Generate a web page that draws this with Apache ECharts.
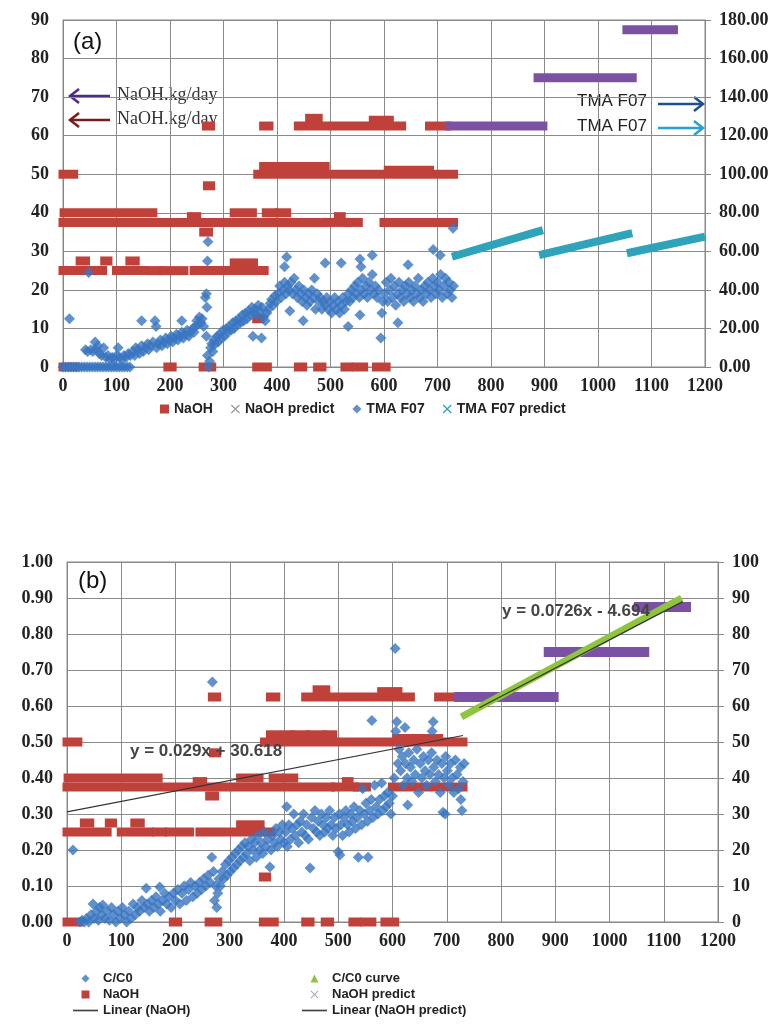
<!DOCTYPE html>
<html>
<head>
<meta charset="utf-8">
<script src="https://cdn.jsdelivr.net/npm/echarts@6/dist/echarts.min.js"></script>
<style>html,body{margin:0;padding:0;background:#fff}#main{width:781px;height:1027px}</style>
</head>
<body>
<div id="main"></div>
<script>
// day axis + the two value scales
var dayAxis = [0, 1200, 100];
var naohAxis = [0, 90, 10];     // (a) left, kg/day
var tmaAxis = [0, 180, 20];     // (a) right
var ccAxis = [0, 1, 0.1];       // (b) left
var naohAxisB = [0, 100, 10];   // (b) right

var naohRuns = [
  [0,20,50],
  [2,168,40],[240,250,39],[320,354,40],[380,392,40],[405,418,40],[515,520,39],
  [0,486,37.5],[495,530,37.5],[535,552,37.5],[600,730,37.5],
  [263,272,35],
  [0,74,25],[100,152,25],[165,176,25],[188,226,25],[245,376,25],
  [32,42,27.5],[78,84,27.5],[125,135,27.5],[320,356,27],
  [270,276,47],
  [268,276,62.5],[375,385,62.5],[440,633,62.5],[685,717,62.5],
  [461,477,64.5],[580,610,64],
  [364,730,50],[375,385,52],[400,412,52],[420,440,52],[450,470,52],[480,490,52],[608,685,51],
  [362,368,12.5],
  [0,22,0],[196,204,0],[262,278,0],[362,382,0],[440,448,0],[476,484,0],[527,534,0],[548,562,0],[586,604,0]
];
var naohPredictRuns = [[723,897,62.5],[888,1064,75],[1054,1141,87.5]];
// TMA F07 predict pieces: [day0, value0, day1, value1]
var tmaPredictSegs = [[727,57.2,897,71],[890,58,1064,69.5],[1054,59,1200,67.6]];

// TMA F07 measured (right axis of a)
var tmaF07 = [
  [0,0],[5,0],[10,0],[15,0],[20,0],[25,0],[30,0],[35,0],[40,0],[45,0],[50,0],[55,0],[60,0],[65,0],
  [70,0],[75,0],[80,0],[85,0],[90,0],[95,0],[100,0],[105,0],[110,0],[115,0],[120,0],[125,0],
  [12,25],[42,9],[46,8],[48,49],[52,9],[56,8],[60,13],[62,9],[65,11],[68,7],[72,6],[76,10],[80,5],
  [84,6],[88,4],[92,5],[96,4],[100,6],[103,10],[106,5],[110,4],[114,6],[118,5],[122,7],[126,6],[130,8],
  [134,6],[136,10],[140,9],[143,7],[147,24],[147,11],[150,8],[154,10],[158,12],[160,9],[164,11],
  [168,13],[172,24],[174,21],[175,10],[178,12],[182,14],[185,11],[188,13],[192,15],[195,12],[198,14],
  [202,16],[205,13],[208,15],[212,17],[215,14],[218,16],[222,24],[222,18],[225,15],[228,17],[232,19],
  [235,16],[238,18],[242,20],[245,18],[248,21],[250,24],[252,22],[255,26],[258,23],[260,25],[263,21],
  [266,36],[268,38],[269,31],[270,55],[271,65],[268,16],[270,6],[272,0],[274,3],[276,10],
  [278,12],[280,8],[282,14],[285,12],[288,16],[290,13],[293,17],[296,15],[299,19],[302,16],[305,20],
  [308,18],[311,21],[314,19],[317,23],[320,20],[323,24],[326,22],[329,25],[332,23],[335,27],[338,24],
  [341,28],[344,25],[347,29],[350,27],[353,31],[355,16],[356,28],[359,30],[362,27],[365,32],[368,29],
  [371,15],[372,31],[375,26],[378,24],[381,28],[384,30],[387,33],[390,35],[393,32],[396,37],[399,34],
  [402,38],[405,42],[408,36],[411,40],[414,44],[414,52],[417,38],[418,57],[420,42],[423,40],[424,29],
  [426,44],[429,38],[432,46],[435,40],[438,36],[441,42],[444,38],[447,34],[449,24],[450,40],
  [453,36],[456,32],[459,38],[462,34],[465,40],[468,36],[470,46],[472,30],[475,38],[478,34],[481,36],
  [484,30],[487,34],[490,54],[490,32],[493,36],[496,30],[499,34],[502,28],[505,32],[508,36],[511,30],
  [514,34],[517,28],[520,32],[520,54],[523,36],[526,30],[529,34],[533,21],[533,38],[536,34],[539,40],
  [542,36],[545,42],[548,38],[551,44],[554,36],[555,56],[555,27],[557,52],[557,40],[560,46],[563,38],
  [566,42],[569,36],[572,44],[575,40],[578,58],[578,48],[581,38],[584,42],[587,36],[590,40],
  [594,15],[596,28],[598,34],
  [601,38],[604,44],[607,34],[610,40],[613,46],[616,36],[619,42],[622,32],[625,38],[626,23],[628,44],
  [631,36],[634,40],[637,34],[640,42],[643,38],[645,53],[646,44],[649,36],[652,40],[655,34],[658,42],
  [661,38],[664,46],[667,36],[670,40],[673,34],[676,42],[679,38],[682,44],[685,40],[688,36],[691,46],
  [692,61],[694,42],[697,38],[700,44],[703,40],[705,58],[706,48],[709,36],[712,42],[715,46],[718,38],
  [721,44],[724,40],[727,36],[729,72],[730,42]
];

// C/C0 measured (left axis of b)
var cc0 = [
  [11,0.2],[24,0],[28,0.005],[32,0],[36,0.01],[40,0],[44,0.02],[48,0.05],[50,0.01],[54,0.03],[58,0.005],
  [60,0.04],[64,0.02],[66,0.047],[70,0.01],[74,0.03],[78,0.005],[82,0.04],[86,0.02],[90,0],[94,0.03],
  [98,0.01],[102,0.04],[106,0.02],[110,0],[114,0.03],[118,0.01],[122,0.05],[126,0.02],[130,0.04],
  [134,0.03],[138,0.06],[142,0.04],[146,0.094],[148,0.05],[152,0.03],[156,0.06],[160,0.04],[164,0.07],
  [168,0.05],[171,0.097],[172,0.03],[176,0.06],[180,0.08],[184,0.05],[188,0.07],[192,0.04],[196,0.08],
  [200,0.06],[204,0.09],[208,0.05],[212,0.08],[216,0.1],[220,0.06],[224,0.09],[228,0.11],[232,0.07],
  [236,0.1],[240,0.08],[244,0.11],[248,0.09],[252,0.12],[256,0.1],[260,0.13],[264,0.11],
  [268,0.667],[267,0.18],[270,0.14],[272,0.06],[274,0.1],[276,0.04],[278,0.08],[280,0.12],
  [283,0.1],[286,0.14],[289,0.12],[292,0.16],[295,0.13],[298,0.17],[301,0.14],[304,0.18],[307,0.15],
  [310,0.19],[313,0.16],[316,0.2],[319,0.17],[322,0.21],[325,0.18],[328,0.22],[331,0.19],[334,0.21],
  [337,0.17],[340,0.23],[343,0.2],[346,0.22],[349,0.18],[352,0.24],[355,0.2],[358,0.22],[361,0.19],
  [364,0.25],[367,0.21],[370,0.23],[374,0.153],[376,0.2],[379,0.24],[382,0.22],[385,0.26],[388,0.21],
  [391,0.25],[394,0.23],[397,0.27],[400,0.22],
  [403,0.25],[405,0.32],[406,0.21],[409,0.27],[412,0.23],[415,0.26],[418,0.3],[421,0.24],[424,0.27],
  [427,0.22],[430,0.28],[433,0.25],[436,0.3],[439,0.24],[442,0.27],[445,0.23],[448,0.15],[451,0.29],
  [454,0.26],[457,0.31],[460,0.25],[463,0.28],[466,0.24],[469,0.3],[472,0.27],[475,0.25],[478,0.29],
  [481,0.26],[484,0.31],[487,0.27],[490,0.24],[493,0.29],[496,0.26],[500,0.195],[502,0.3],[503,0.186],
  [505,0.27],[508,0.24],[511,0.29],[514,0.31],[517,0.27],[520,0.25],[523,0.3],[526,0.28],[529,0.32],
  [532,0.26],[535,0.29],[537,0.18],[540,0.31],[543,0.27],[545,0.37],[548,0.3],[551,0.33],[554,0.28],
  [555,0.18],[558,0.31],[561,0.34],[562,0.56],[564,0.29],[567,0.38],[570,0.32],[573,0.3],[576,0.34],
  [580,0.386],[582,0.31],[585,0.35],[588,0.32],[591,0.36],[594,0.33],[597,0.3],[600,0.35],
  [603,0.4],[605,0.76],[606,0.53],[608,0.556],[610,0.44],[612,0.48],[615,0.42],[618,0.46],[620,0.38],
  [623,0.54],[624,0.44],[627,0.4],[628,0.325],[630,0.47],[633,0.43],[636,0.39],[639,0.45],[642,0.41],
  [645,0.48],[648,0.36],[651,0.44],[654,0.4],[657,0.46],[660,0.42],[663,0.38],[666,0.45],[669,0.41],
  [672,0.47],[673,0.53],[675,0.556],[676,0.43],[679,0.39],[682,0.45],[685,0.41],[688,0.36],[691,0.44],
  [693,0.305],[695,0.4],[697,0.3],[698,0.46],[701,0.42],[704,0.38],[707,0.44],[710,0.4],[713,0.36],
  [716,0.45],[719,0.41],[722,0.37],[725,0.43],[726,0.34],[728,0.31],[730,0.39],[732,0.44]
];
var cc0Curve = [[727,0.57],[1133,0.90]];
var linearNaoh = [[0,30.6],[730,51.8]];
var linearNaohPredict = [[760,59.5],[1135,89]];

var RED = '#c0403a', BLUE = '#3a76c0', CYAN = '#2fa3b9', PURPLE = '#7b52a3', GREEN = '#8fc43f';
var SQ = 'path://M0,0h10v10h-10z';
var DIA = 'path://M5,0L10,5L5,10L0,5z';
var TRI = 'path://M5,0L10,10L0,10z';
var CROSS = 'path://M0,1L1,0L5,4L9,0L10,1L6,5L10,9L9,10L5,6L1,10L0,9L4,5z';
var LINE = 'path://M0,0h30v2h-30z';

var tickFont = {fontFamily: "'Liberation Serif', serif", fontWeight: 'bold', fontSize: 18, color: '#222'};
var legFont = "'Liberation Sans Narrow', 'Liberation Sans', sans-serif";

function runBar(color, h) {
  return function (params, api) {
    var a = api.coord([api.value(0), api.value(2)]);
    var b = api.coord([api.value(1), api.value(2)]);
    return {type: 'rect', shape: {x: a[0] - h / 2, y: a[1] - h / 2, width: b[0] - a[0] + h, height: h},
      style: {fill: color}};
  };
}
function segLine(color, w) {
  return function (params, api) {
    var a = api.coord([api.value(0), api.value(1)]);
    var b = api.coord([api.value(2), api.value(3)]);
    return {type: 'line', shape: {x1: a[0], y1: a[1], x2: b[0], y2: b[1]},
      style: {stroke: color, lineWidth: w}};
  };
}
function xAx(grid) {
  return {type: 'value', gridIndex: grid, min: dayAxis[0], max: dayAxis[1], interval: dayAxis[2],
    axisLine: {lineStyle: {color: '#888'}}, axisTick: {show: false},
    splitLine: {lineStyle: {color: '#8a8a8a'}},
    axisLabel: Object.assign({margin: 10, formatter: function (v) { return String(v); }}, tickFont)};
}
function yAx(grid, rng, pos, fmt, tick) {
  return {type: 'value', gridIndex: grid, position: pos, min: rng[0], max: rng[1], interval: rng[2],
    axisLine: {show: true, lineStyle: {color: '#888'}},
    axisTick: {show: tick, length: 6, lineStyle: {color: '#888'}},
    splitLine: {show: pos === 'left', lineStyle: {color: '#8a8a8a'}},
    axisLabel: Object.assign({margin: 14, formatter: fmt}, tickFont)};
}
function arrow(x1, x2, y, color, dir) {
  return [
    {type: 'line', shape: {x1: x1, y1: y, x2: x2, y2: y}, style: {stroke: color, lineWidth: 2.5}},
    {type: 'polyline', shape: {points: [[x2 + 9 * dir, y - 7], [x2, y], [x2 + 9 * dir, y + 7]]},
      style: {stroke: color, lineWidth: 2.5, fill: null}}
  ];
}

var chart = echarts.init(document.getElementById('main'));
chart.setOption({
  animation: false,
  backgroundColor: '#fff',
  grid: [
    {left: 63, right: 76, top: 20, bottom: 660, show: true, borderColor: '#888'},
    {left: 67, right: 63, top: 562, bottom: 105, show: true, borderColor: '#888'}
  ],
  xAxis: [xAx(0), xAx(1)],
  yAxis: [
    yAx(0, naohAxis, 'left', '{value}', false),
    yAx(0, tmaAxis, 'right', function (v) { return v.toFixed(2); }, true),
    yAx(1, ccAxis, 'left', function (v) { return v.toFixed(2); }, false),
    yAx(1, naohAxisB, 'right', '{value}', true)
  ],
  legend: [
    {left: 155, top: 397, itemWidth: 9, itemHeight: 9, itemGap: 18,
      textStyle: {fontFamily: legFont, fontWeight: 'bold', fontSize: 14, color: '#222'},
      data: [
        {name: 'NaOH', icon: SQ, itemStyle: {color: RED}},
        {name: 'NaOH predict', icon: CROSS, itemStyle: {color: '#999'}},
        {name: 'TMA F07', icon: DIA, itemStyle: {color: BLUE}},
        {name: 'TMA F07 predict', icon: CROSS, itemStyle: {color: CYAN}}
      ]},
    {left: 68, top: 967, orient: 'vertical', itemWidth: 25, itemHeight: 8, itemGap: 3,
      textStyle: {fontFamily: legFont, fontWeight: 'bold', fontSize: 13, color: '#222'},
      data: [
        {name: 'C/C0', icon: DIA, itemStyle: {color: BLUE}},
        {name: 'NaOH ', icon: SQ, itemStyle: {color: RED}},
        {name: 'Linear (NaOH)', icon: LINE, itemStyle: {color: '#444'}}
      ]},
    {left: 297, top: 967, orient: 'vertical', itemWidth: 25, itemHeight: 8, itemGap: 3,
      textStyle: {fontFamily: legFont, fontWeight: 'bold', fontSize: 13, color: '#222'},
      data: [
        {name: 'C/C0 curve', icon: TRI, itemStyle: {color: GREEN}},
        {name: 'NaOH predict ', icon: CROSS, itemStyle: {color: '#aab'}},
        {name: 'Linear (NaOH predict)', icon: LINE, itemStyle: {color: '#444'}}
      ]}
  ],
  series: [
    // chart (a)
    {name: 'NaOH', type: 'custom', xAxisIndex: 0, yAxisIndex: 0, data: naohRuns,
      encode: {x: [0, 1], y: 2}, renderItem: runBar(RED, 9)},
    {name: 'NaOH predict', type: 'custom', xAxisIndex: 0, yAxisIndex: 0, data: naohPredictRuns,
      encode: {x: [0, 1], y: 2}, renderItem: runBar(PURPLE, 9)},
    {name: 'TMA F07', type: 'scatter', xAxisIndex: 0, yAxisIndex: 1, data: tmaF07,
      symbol: 'diamond', symbolSize: [11, 11], itemStyle: {color: BLUE}},
    {name: 'TMA F07 predict', type: 'custom', xAxisIndex: 0, yAxisIndex: 1, data: tmaPredictSegs,
      encode: {x: [0, 2], y: [1, 3]}, renderItem: segLine(CYAN, 8)},
    // chart (b)
    {name: 'C/C0', type: 'scatter', xAxisIndex: 1, yAxisIndex: 2, data: cc0,
      symbol: 'diamond', symbolSize: [11, 11], itemStyle: {color: BLUE}},
    {name: 'NaOH ', type: 'custom', xAxisIndex: 1, yAxisIndex: 3, data: naohRuns,
      encode: {x: [0, 1], y: 2}, renderItem: runBar(RED, 9)},
    {name: 'NaOH predict ', type: 'custom', xAxisIndex: 1, yAxisIndex: 3, data: naohPredictRuns,
      encode: {x: [0, 1], y: 2}, renderItem: runBar(PURPLE, 10)},
    {name: 'C/C0 curve', type: 'line', xAxisIndex: 1, yAxisIndex: 2, data: cc0Curve,
      showSymbol: false, lineStyle: {color: GREEN, width: 7}},
    {name: 'Linear (NaOH)', type: 'line', xAxisIndex: 1, yAxisIndex: 3, data: linearNaoh,
      showSymbol: false, lineStyle: {color: '#333', width: 1.2}, z: 5},
    {name: 'Linear (NaOH predict)', type: 'line', xAxisIndex: 1, yAxisIndex: 3, data: linearNaohPredict,
      showSymbol: false, lineStyle: {color: '#333', width: 1.2}, z: 5}
  ],
  graphic: [].concat(
    [{type: 'text', left: 73, top: 30, style: {text: '(a)', font: "24px 'Liberation Sans', sans-serif", fill: '#111'}},
     {type: 'text', left: 78, top: 569, style: {text: '(b)', font: "24px 'Liberation Sans', sans-serif", fill: '#111'}},
     {type: 'text', left: 117, top: 86, style: {text: 'NaOH.kg/day', font: "18px 'Liberation Serif', serif", fill: '#333'}},
     {type: 'text', left: 117, top: 110, style: {text: 'NaOH.kg/day', font: "18px 'Liberation Serif', serif", fill: '#333'}},
     {type: 'text', left: 577, top: 93, style: {text: 'TMA F07', font: "17px 'Liberation Sans', sans-serif", fill: '#222'}},
     {type: 'text', left: 577, top: 118, style: {text: 'TMA F07', font: "17px 'Liberation Sans', sans-serif", fill: '#222'}},
     {type: 'text', left: 130, top: 743, z: 10, style: {text: 'y = 0.029x + 30.618', font: "bold 17px 'Liberation Sans', sans-serif", fill: '#444'}},
     {type: 'text', left: 502, top: 603, z: 10, style: {text: 'y = 0.0726x - 4.694', font: "bold 17px 'Liberation Sans', sans-serif", fill: '#444'}}],
    arrow(110, 70, 96, '#4b2a8a', 1),
    arrow(110, 70, 120, '#7a1c1c', 1),
    arrow(658, 703, 104, '#1f4f8f', -1),
    arrow(658, 703, 128, '#27a0d6', -1)
  )
});
</script>
</body>
</html>
